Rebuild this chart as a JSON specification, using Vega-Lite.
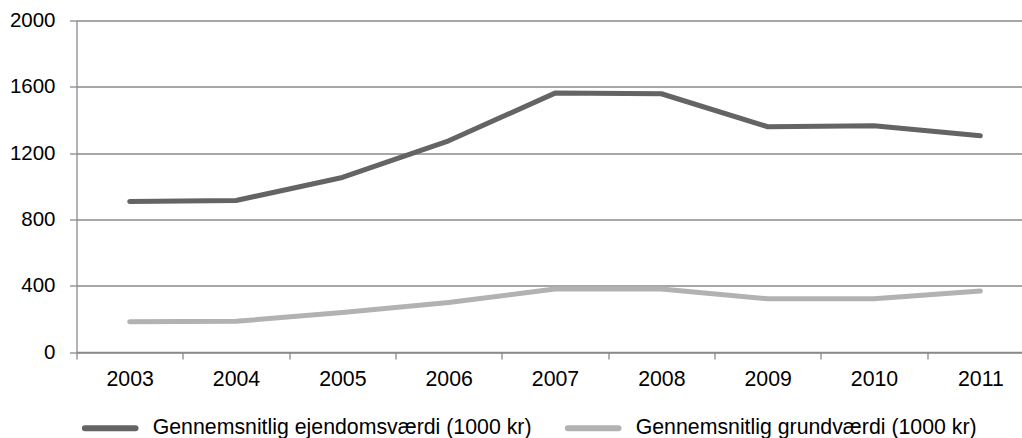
{
  "$schema": "https://vega.github.io/schema/vega-lite/v6.json",
  "width": 945.5,
  "height": 331.5,
  "autosize": {"type": "none"},
  "padding": {"left": 76.5, "top": 20.5, "right": 0, "bottom": 86},
  "background": "white",
  "config": {"view": {"stroke": null}, "font": "Liberation Sans"},
  "data": {
    "values": [
      {"year": "2003", "series": "Gennemsnitlig ejendomsværdi (1000 kr)", "value": 908},
      {"year": "2004", "series": "Gennemsnitlig ejendomsværdi (1000 kr)", "value": 914},
      {"year": "2005", "series": "Gennemsnitlig ejendomsværdi (1000 kr)", "value": 1053},
      {"year": "2006", "series": "Gennemsnitlig ejendomsværdi (1000 kr)", "value": 1274},
      {"year": "2007", "series": "Gennemsnitlig ejendomsværdi (1000 kr)", "value": 1562},
      {"year": "2008", "series": "Gennemsnitlig ejendomsværdi (1000 kr)", "value": 1558},
      {"year": "2009", "series": "Gennemsnitlig ejendomsværdi (1000 kr)", "value": 1359},
      {"year": "2010", "series": "Gennemsnitlig ejendomsværdi (1000 kr)", "value": 1365},
      {"year": "2011", "series": "Gennemsnitlig ejendomsværdi (1000 kr)", "value": 1305},
      {"year": "2003", "series": "Gennemsnitlig grundværdi (1000 kr)", "value": 183},
      {"year": "2004", "series": "Gennemsnitlig grundværdi (1000 kr)", "value": 185},
      {"year": "2005", "series": "Gennemsnitlig grundværdi (1000 kr)", "value": 238},
      {"year": "2006", "series": "Gennemsnitlig grundværdi (1000 kr)", "value": 299},
      {"year": "2007", "series": "Gennemsnitlig grundværdi (1000 kr)", "value": 380},
      {"year": "2008", "series": "Gennemsnitlig grundværdi (1000 kr)", "value": 380},
      {"year": "2009", "series": "Gennemsnitlig grundværdi (1000 kr)", "value": 321},
      {"year": "2010", "series": "Gennemsnitlig grundværdi (1000 kr)", "value": 321},
      {"year": "2011", "series": "Gennemsnitlig grundværdi (1000 kr)", "value": 368}
    ]
  },
  "mark": {"type": "line", "strokeWidth": 5, "strokeCap": "round", "strokeJoin": "round"},
  "encoding": {
    "x": {
      "field": "year",
      "type": "ordinal",
      "bandPosition": 0.5,
      "scale": {"type": "band", "range": [0, 957], "paddingInner": 0, "paddingOuter": 0},
      "axis": {
        "title": null,
        "labelAngle": 0,
        "labelFontSize": 21.3,
        "labelColor": "#000000",
        "labelPadding": 9.5,
        "tickBand": "extent",
        "tickSize": 7,
        "tickColor": "#8a8a8a",
        "domainColor": "#8a8a8a",
        "domainWidth": 1.3,
        "tickWidth": 1.3,
        "grid": false
      }
    },
    "y": {
      "field": "value",
      "type": "quantitative",
      "scale": {"domain": [0, 2000], "nice": false},
      "axis": {
        "title": null,
        "values": [0, 400, 800, 1200, 1600, 2000],
        "format": "d",
        "labelFontSize": 20.5,
        "labelColor": "#000000",
        "labelPadding": 14.5,
        "tickSize": 7,
        "tickColor": "#8a8a8a",
        "domainColor": "#8a8a8a",
        "domainWidth": 1.3,
        "tickWidth": 1.3,
        "grid": true,
        "gridColor": "#8a8a8a",
        "gridWidth": 1.3
      }
    },
    "color": {
      "field": "series",
      "type": "nominal",
      "scale": {
        "domain": ["Gennemsnitlig ejendomsværdi (1000 kr)", "Gennemsnitlig grundværdi (1000 kr)"],
        "range": ["#646464", "#b2b2b2"]
      },
      "legend": {
        "title": null,
        "orient": "none",
        "direction": "horizontal",
        "legendX": 5.2,
        "legendY": 379,
        "padding": 0,
        "labelFontSize": 21.3,
        "labelColor": "#000000",
        "labelLimit": 0,
        "labelOffset": 14,
        "columnPadding": 24,
        "symbolType": "stroke",
        "symbolSize": 2560,
        "symbolStrokeWidth": 6,
        "encode": {"symbols": {"update": {"strokeCap": {"value": "round"}}}}
      }
    }
  }
}
